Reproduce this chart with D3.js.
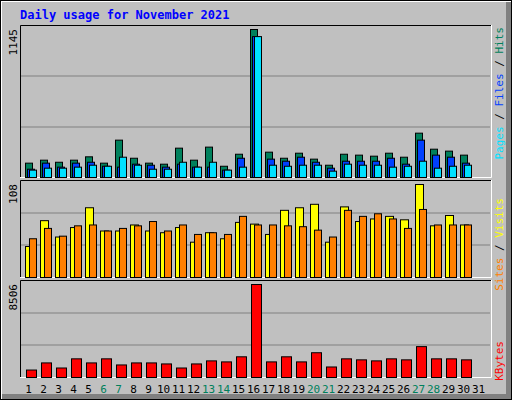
<!DOCTYPE html>
<html><head><meta charset="utf-8">
<script src="https://cdn.jsdelivr.net/npm/d3@7"></script>
<style>body{margin:0;background:#fff}</style>
</head><body>
<script>
var days = d3.range(1, 32);
var weekend = [6, 7, 13, 14, 20, 21, 27, 28];
var hits = [111,134,118,134,160,111,289,149,111,103,227,134,235,87,180,1145,196,149,188,142,95,180,173,165,188,157,343,219,204,173,0];
var files = [64,111,80,111,118,87,80,103,95,80,103,80,80,57,149,1090,142,126,157,118,72,126,126,126,149,103,289,173,157,111,0];
var pages = [57,72,72,80,95,87,157,95,64,64,118,80,118,57,80,1090,95,87,95,95,49,103,95,95,80,87,126,72,87,95,0];
var visits = [36,66,47,58,81,54,54,61,54,52,58,41,52,45,64,62,50,78,81,85,41,82,65,68,71,67,108,60,72,61,0];
var sites = [45,57,48,60,61,54,57,60,65,54,61,50,52,50,71,61,61,60,59,55,47,78,71,74,68,57,79,61,61,61,0];
var kbytes = [683,1334,869,1707,1334,1707,1148,1334,1334,1241,869,1241,1520,1427,1893,8506,1427,1893,1427,2265,962,1707,1614,1520,1707,1614,2824,1707,1707,1614,0];

var W = 512, H = 400;
var svg = d3.select("body").append("svg").attr("width", W).attr("height", H)
    .style("font-family", "'DejaVu Sans Mono', monospace");

// outer frame
svg.append("rect").attr("x", 0).attr("y", 0).attr("width", W).attr("height", H).attr("fill", "#000");
svg.append("rect").attr("x", 1).attr("y", 1).attr("width", W - 2).attr("height", H - 2).attr("fill", "#fff");
svg.append("rect").attr("x", 2).attr("y", 2).attr("width", W - 3).attr("height", H - 3).attr("fill", "#808080");
svg.append("rect").attr("x", 2).attr("y", 2).attr("width", W - 8).attr("height", H - 8).attr("fill", "#c0c0c0");

svg.append("text").attr("x", 20).attr("y", 19).attr("fill", "#0000ff")
    .attr("font-size", 12).attr("font-weight", "bold").text("Daily usage for November 2021");

var x = d3.scaleBand().domain(days).range([20, 485]);

var panels = [
    { top: 25, bottom: 178, max: 1145 },
    { top: 180, bottom: 278, max: 108 },
    { top: 280, bottom: 378, max: 8506 }
];

panels.forEach(function(p) {
    p.y = d3.scaleLinear().domain([0, p.max]).range([p.bottom - 1, p.top + 4]);
    svg.append("rect").attr("x", 20).attr("y", p.top).attr("width", 471).attr("height", p.bottom - p.top)
        .attr("fill", "#c0c0c0");
    var h = p.bottom - p.top;
    [1, 2].forEach(function(k) {
        var gy = p.top + Math.round(h * k / 3);
        svg.append("line").attr("x1", 21).attr("x2", 490).attr("y1", gy).attr("y2", gy)
            .attr("stroke", "#808080").attr("stroke-width", 1);
    });
    svg.append("path").attr("d", "M20.5," + p.bottom + "V" + (p.top + 0.5) + "H491")
        .attr("fill", "none").attr("stroke", "#000");
    svg.append("path").attr("d", "M491.5," + p.top + "V" + (p.bottom - 0.5) + "H20")
        .attr("fill", "none").attr("stroke", "#fff");
    svg.append("text").attr("transform", "translate(17," + (p.top + 4) + ") rotate(-90)")
        .attr("text-anchor", "end").attr("font-size", 11).attr("fill", "#000").text(p.max);
});

function bars(data, p, dx, w, color) {
    svg.append("g").selectAll("rect").data(data).enter().append("rect")
        .filter(function(d) { return d > 0; })
        .attr("x", function(d, i) { return x(days[i]) + dx + 0.5; })
        .attr("y", function(d) { return p.y(d) + 0.5; })
        .attr("width", w)
        .attr("height", function(d) { return p.y(0) - p.y(d); })
        .attr("fill", color).attr("stroke", "#000");
}

bars(hits, panels[0], 5, 7, "#00805c");
bars(files, panels[0], 7, 7, "#0040ff");
bars(pages, panels[0], 9, 7, "#00e0ff");
bars(visits, panels[1], 5, 8, "#ffff00");
bars(sites, panels[1], 9, 7, "#ff8000");
bars(kbytes, panels[2], 6, 10, "#ff0000");

// right side labels, read bottom to top
function sideLabel(parts, yTop) {
    var t = svg.append("text").attr("transform", "translate(503," + yTop + ") rotate(-90)")
        .attr("font-size", 11).attr("text-anchor", "end");
    parts.forEach(function(s) { t.append("tspan").attr("fill", s[1]).text(s[0]); });
}
sideLabel([["Pages", "#00e0ff"], [" / ", "#000"], ["Files", "#0040ff"], [" / ", "#000"], ["Hits", "#00805c"]], 27);
sideLabel([["Sites", "#ff8000"], [" / ", "#000"], ["Visits", "#ffff00"]], 198);
sideLabel([["KBytes", "#ff0000"]], 341);

svg.append("g").selectAll("text").data(days).enter().append("text")
    .attr("x", function(d) { return x(d) + x.bandwidth() / 2 + 1; })
    .attr("y", 393).attr("text-anchor", "middle").attr("font-size", 11)
    .attr("fill", function(d) { return weekend.indexOf(d) >= 0 ? "#00805c" : "#000"; })
    .text(function(d) { return d; });
</script>
</body></html>
